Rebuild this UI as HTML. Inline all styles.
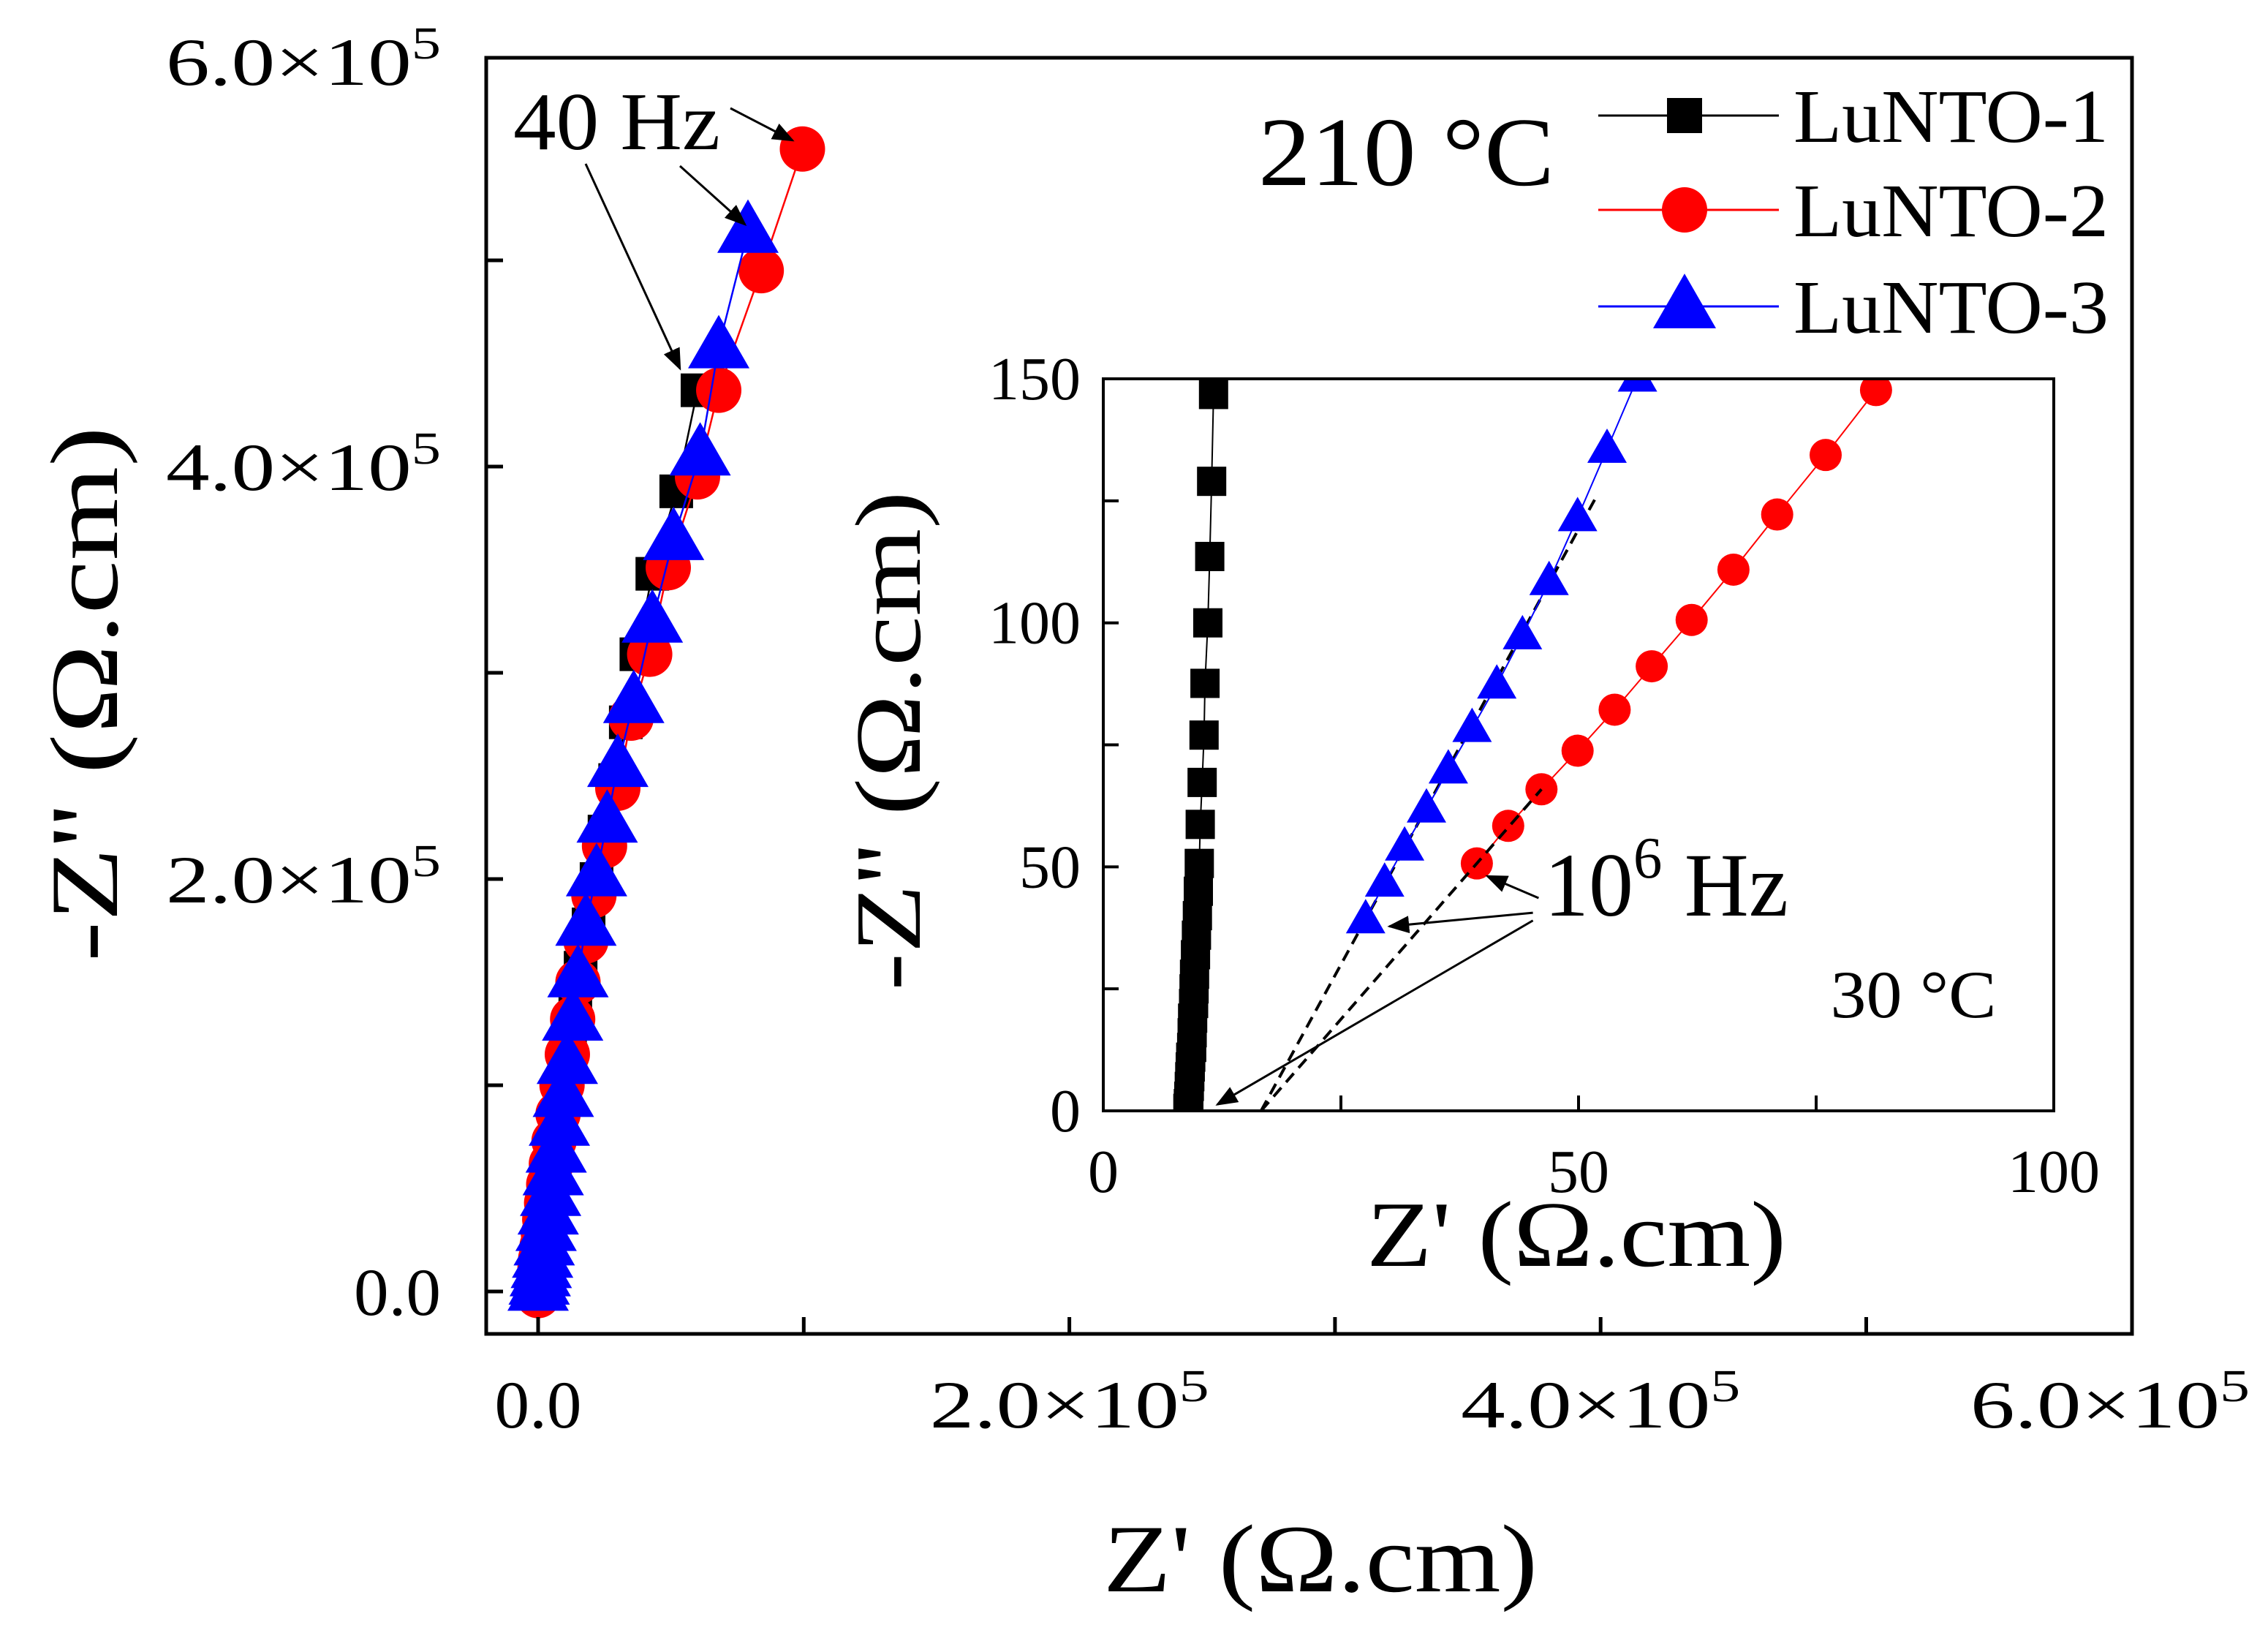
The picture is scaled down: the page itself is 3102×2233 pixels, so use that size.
<!DOCTYPE html>
<html><head><meta charset="utf-8"><style>
html,body{margin:0;padding:0;background:#fff;}
svg{display:block;}
text{font-family:"Liberation Serif",serif;fill:#000;}
</style></head><body>
<svg id="chart" width="3102" height="2233" viewBox="0 0 3102 2233" xmlns="http://www.w3.org/2000/svg">
<defs>
<clipPath id="insetClip"><rect x="1509" y="518" width="1300" height="1001"/></clipPath>
<marker id="ah" markerWidth="10" markerHeight="8" refX="9" refY="4" orient="auto" markerUnits="strokeWidth"><path d="M0,0 L10,4 L0,8 Z" fill="#000"/></marker>
</defs>
<rect x="0" y="0" width="3102" height="2233" fill="#fff"/>
<g id="main"></g>
<g id="inset"></g>
<g id="ann"></g>
</svg>
<script>
// ---- main plot data (units of 1e5 Ω.cm) ----
const mainXTicks = [0, 2, 4, 6];
const mainYTicks = [0, 2, 4, 6];
const mainMinorTicks = [1, 2, 3, 4, 5];
const lunto1X = [0.60,0.52,0.43,0.37,0.33,0.29,0.25,0.22,0.19,0.16,0.14,0.12,0.10,0.085,0.07,0.058,0.047,0.037,0.028,0.02,0.013,0.007,0.002];
const lunto1Y = [4.37,3.88,3.48,3.09,2.76,2.48,2.23,2.0,1.78,1.57,1.38,1.2,1.03,0.88,0.74,0.61,0.5,0.4,0.3,0.21,0.13,0.06,0.0];
const lunto2X = [0.995,0.84,0.68,0.60,0.49,0.42,0.35,0.30,0.25,0.21,0.18,0.15,0.13,0.11,0.09,0.075,0.06,0.05,0.04,0.032,0.025,0.02,0.015,0.01,0.007,0.004,0.002,0.0];
const lunto2Y = [5.54,4.95,4.37,3.95,3.51,3.09,2.78,2.44,2.16,1.92,1.70,1.50,1.32,1.15,1.0,0.86,0.73,0.62,0.52,0.43,0.35,0.28,0.22,0.16,0.11,0.07,0.035,-0.02];
const lunto3X = [0.79,0.68,0.61,0.51,0.43,0.36,0.30,0.26,0.22,0.18,0.15,0.13,0.11,0.095,0.08,0.068,0.057,0.047,0.038,0.03,0.023,0.017,0.012,0.008,0.004,0.0];
const lunto3Y = [5.14,4.58,4.06,3.65,3.25,2.86,2.55,2.28,2.02,1.78,1.53,1.32,1.11,0.95,0.81,0.68,0.57,0.47,0.38,0.30,0.23,0.17,0.12,0.08,0.04,0.01];
// ---- inset data (Ω.cm) ----
const insetXTicks = [0, 50, 100];
const insetYTicks = [0, 50, 100, 150];
const in1X = [11.6,11.4,11.2,11.0,10.7,10.6,10.4,10.2,10.1,10.0,9.9,9.8,9.7,9.6,9.55,9.5,9.4,9.35,9.3,9.2,9.15,9.1,9.05,9.0,8.95,8.9];
const in1Y = [146.8,129,113.6,100,87.6,77,67.3,58.7,50.7,45,40,36,32,28,25,22,19,16,13,11,9,7,5,3,1.5,0.5];
const in2X = [39.3,42.6,46.1,49.9,53.8,57.7,61.9,66.3,70.9,76.0,81.3];
const in2Y = [50.7,58.4,65.9,73.8,82.2,91.1,100.6,110.9,122.2,134.4,147.7];
const in3X = [27.6,29.6,31.7,34.0,36.3,38.8,41.4,44.1,46.9,49.9,53.0,56.2];
const in3Y = [39.2,46.7,54.1,61.9,69.9,78.4,87.3,97.4,108.5,121.6,135.6,150.2];

const NS = "http://www.w3.org/2000/svg";
function mk(parent, tag, attrs, text){
  const e = document.createElementNS(NS, tag);
  for (const k in attrs) e.setAttribute(k, attrs[k]);
  if (attrs.textLength) e.setAttribute('lengthAdjust','spacingAndGlyphs');
  if (text !== undefined) e.textContent = text;
  parent.appendChild(e); return e;
}
const MX = v => 736 + v * 363.3;
const MY = v => 1766 - v * 282;
const IX = v => 1509 + v * 13;
const IY = v => 1519 - v * 6.673;

const main = document.getElementById('main');
function sq(g, x, y, s, fill){ return mk(g,'rect',{x:x-s/2,y:y-s/2,width:s,height:s,fill:fill}); }
function ci(g, x, y, r, fill){ return mk(g,'circle',{cx:x,cy:y,r:r,fill:fill}); }
function tri(g, x, y, w, fill){ const h=w*0.87; return mk(g,'polygon',{points:`${x},${y-h*0.6} ${x-w/2},${y+h*0.4} ${x+w/2},${y+h*0.4}`,fill:fill}); }
function series(g, xs, ys, fx, fy, color, kind, size, name, lw){
  const sg = mk(g,'g',{});
  
  
  const pts = xs.map((x,i)=>fx(x)+','+fy(ys[i])).join(' ');
  mk(sg,'polyline',{points:pts,fill:'none',stroke:color,'stroke-width':lw});
  xs.forEach((x,i)=>{
    let m;
    if(kind==='sq') m = sq(sg, fx(x), fy(ys[i]), size, color);
    else if(kind==='ci') m = ci(sg, fx(x), fy(ys[i]), size/2, color);
    else m = tri(sg, fx(x), fy(ys[i]), size, color);
    
    
  });
  return sg;
}
series(main, lunto1X, lunto1Y, MX, MY, '#000', 'sq', 46, 'lunto1-main-series', 2.5);
series(main, lunto2X, lunto2Y, MX, MY, '#ff0000', 'ci', 62, 'lunto2-main-series', 2.5);
series(main, lunto3X, lunto3Y, MX, MY, '#0000ff', 'tri', 84, 'lunto3-main-series', 2.5);
const mf = mk(main,'rect',{x:665,y:79,width:2251,height:1745,fill:'none',stroke:'#000','stroke-width':5});


mainMinorTicks.concat([0]).forEach(v=>{
  mk(main,'line',{x1:665,x2:688,y1:MY(v),y2:MY(v),stroke:'#000','stroke-width':5});
  mk(main,'line',{x1:MX(v),x2:MX(v),y1:1824,y2:1801,stroke:'#000','stroke-width':5});
});
function sciLabel(g, x, y, v, anchor, name, len){
  const attrs = {x:x,y:y,'font-size':92,'text-anchor':anchor};
  attrs.textLength = (v===0) ? 119 : len;
  const t = mk(g,'text',attrs);
  
  
  if (v===0){ t.textContent='0.0'; return t; }
  mk(t,'tspan',{},v.toFixed(1)+'×10');
  mk(t,'tspan',{'font-size':62,dy:-36},'5');
  return t;
}
mainYTicks.forEach(v=>{ sciLabel(main, 603, (v===6?MY(v)+42:MY(v)+32), v, 'end', 'y-tick-label', 376); });
mainXTicks.forEach(v=>{ sciLabel(main, v===6?2886:MX(v), 1952, v, 'middle', 'x-tick-label', 382); });
const xt = mk(main,'text',{x:1806,y:2176,'font-size':132,'text-anchor':'middle',textLength:594}, "Z' (Ω.cm)");
 
const yt = mk(main,'text',{x:0,y:0,'font-size':132,'text-anchor':'middle',textLength:732,transform:'translate(160,949) rotate(-90)'}, "-Z'' (Ω.cm)");
 

const leg = mk(main,'g',{});


[['LuNTO-1','#000','sq',158],['LuNTO-2','#ff0000','ci',287],['LuNTO-3','#0000ff','tri',419]].forEach(([lab,c,k,y])=>{
  const eg = mk(leg,'g',{});
  
  
  mk(eg,'line',{x1:2186,x2:2433,y1:y,y2:y,stroke:c,'stroke-width':3});
  if(k==='sq') sq(eg,2304,y,48,c); else if(k==='ci') ci(eg,2304,y,31,c); else tri(eg,2304,y,86,c);
  mk(eg,'text',{x:2453,y:y+36,'font-size':104,textLength:431},lab);
});
const tt = mk(main,'text',{x:1721,y:253,'font-size':134,textLength:405},'210 °C');
 

const ins = document.getElementById('inset');
mk(ins,'rect',{x:1509,y:518,width:1300,height:1001,fill:'#fff'});
const dashBlueX=[16.6,51.8], dashBlueY=[0,125.6], dashRedX=[16.6,46.1], dashRedY=[0,65.9];
const d1 = mk(ins,'line',{x1:IX(dashBlueX[0]),y1:IY(dashBlueY[0]),x2:IX(dashBlueX[1]),y2:IY(dashBlueY[1]),stroke:'#000','stroke-width':4,'stroke-dasharray':'16,10'});
 
const cg = mk(ins,'g',{'clip-path':'url(#insetClip)'});
series(cg, in1X, in1Y, IX, IY, '#000', 'sq', 40, 'lunto1-inset-series', 2);
series(cg, in2X, in2Y, IX, IY, '#ff0000', 'ci', 44, 'lunto2-inset-series', 2);
series(cg, in3X, in3Y, IX, IY, '#0000ff', 'tri', 54, 'lunto3-inset-series', 2);
const d2 = mk(ins,'line',{x1:IX(dashRedX[0]),y1:IY(dashRedY[0]),x2:IX(dashRedX[1]),y2:IY(dashRedY[1]),stroke:'#000','stroke-width':4,'stroke-dasharray':'16,10'});
 
const inf = mk(ins,'rect',{x:1509,y:518,width:1300,height:1001,fill:'none',stroke:'#000','stroke-width':4});
 
[25,50,75,100,125].forEach(v=>{ mk(ins,'line',{x1:1509,x2:1530,y1:IY(v),y2:IY(v),stroke:'#000','stroke-width':4}); });
[25,50,75].forEach(v=>{ mk(ins,'line',{x1:IX(v),x2:IX(v),y1:1519,y2:1498,stroke:'#000','stroke-width':4}); });
insetYTicks.forEach(v=>{
  const t = mk(ins,'text',{x:1478,y:IY(v)+28,'font-size':84,'text-anchor':'end'}, String(v));
   
});
insetXTicks.forEach(v=>{
  const t = mk(ins,'text',{x:IX(v),y:1630,'font-size':84,'text-anchor':'middle'}, String(v));
   
});
const ixt = mk(ins,'text',{x:1869,y:1731,'font-size':128,textLength:574}, "Z' (Ω.cm)");
 
const iyt = mk(ins,'text',{x:0,y:0,'font-size':128,'text-anchor':'middle',textLength:683,transform:'translate(1258,1013) rotate(-90)'}, "-Z'' (Ω.cm)");
 
const t30 = mk(ins,'text',{x:IX(76.5),y:IY(19.2),'font-size':92,textLength:227}, '30 °C');
 

const ann = document.getElementById('ann');
const hz = mk(ann,'text',{x:2112,y:1252,'font-size':124,textLength:334});
 
mk(hz,'tspan',{},'10');
mk(hz,'tspan',{'font-size':80,dy:-52},'6');
mk(hz,'tspan',{dy:52},' Hz');
function arrow(x1,y1,x2,y2,name){
  const a = mk(ann,'line',{x1:x1,y1:y1,x2:x2,y2:y2,stroke:'#000','stroke-width':3,'marker-end':'url(#ah)'});
  
  
}
arrow(IX(45.8),IY(43.6),IX(40.4),IY(48.1),'arrow-1mhz-lunto2');
arrow(IX(45.2),IY(40.6),IX(30.1),IY(37.8),'arrow-1mhz-lunto3');
arrow(IX(45.2),IY(39.0),IX(12.0),IY(1.3),'arrow-1mhz-lunto1');
const h40 = mk(ann,'text',{x:702,y:204,'font-size':112,textLength:283},'40 Hz');
 
arrow(999,148,1084,192,'arrow-40hz-lunto2');
arrow(930,227,1019,307,'arrow-40hz-lunto3');
arrow(801,224,930,504,'arrow-40hz-lunto1');
</script>
</body></html>
